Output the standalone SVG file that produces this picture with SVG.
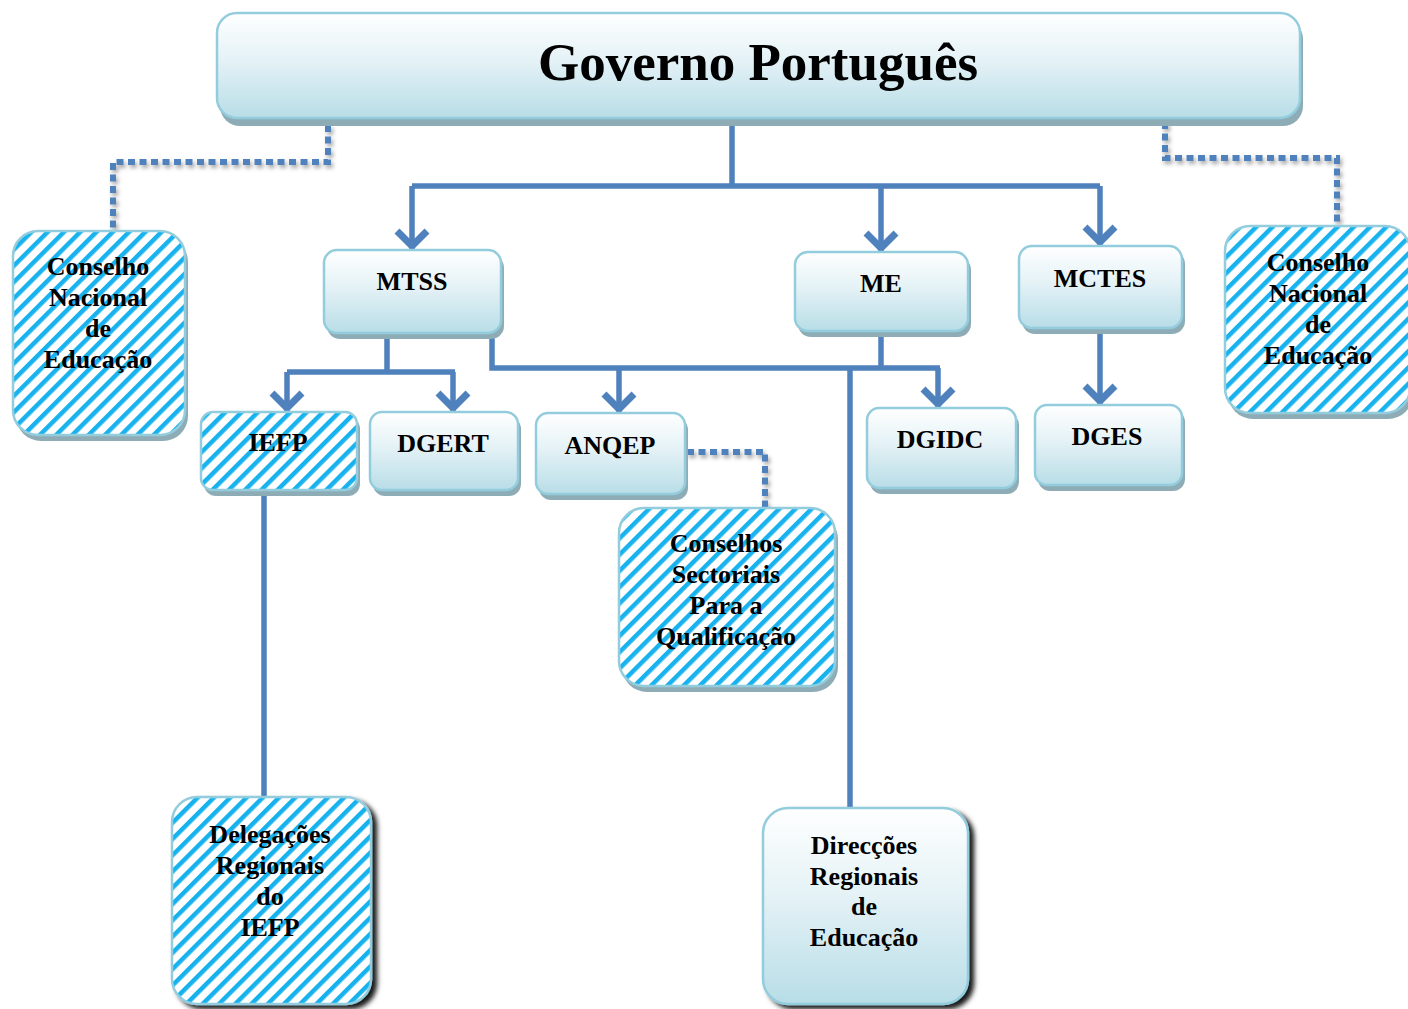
<svg xmlns="http://www.w3.org/2000/svg" width="1408" height="1009" viewBox="0 0 1408 1009">
<style>
.t{font-family:"Liberation Serif","Times New Roman",serif;font-weight:bold;font-size:26px;text-anchor:middle;fill:#000}
.box{fill:url(#grad);stroke:#93CDDD;stroke-width:2.5}
.str{fill:url(#stripes);stroke:#93CDDD;stroke-width:2.5}
.sh{fill:#8EACB6}
.ln{fill:none;stroke:#4F81BD;stroke-width:5.5}
.arr{marker-end:url(#chev)}
.dot{fill:none;stroke:#4F81BD;stroke-width:6;stroke-dasharray:7 4.5;filter:url(#dsh)}
</style>
<defs>
<linearGradient id="grad" x1="0" y1="0" x2="0" y2="1">
<stop offset="0" stop-color="#FFFFFF"/>
<stop offset="0.45" stop-color="#E4F2F6"/>
<stop offset="1" stop-color="#B8DDE7"/>
</linearGradient>
<pattern id="stripes" patternUnits="userSpaceOnUse" width="11.5" height="11.5" patternTransform="rotate(45)">
<rect width="11.5" height="11.5" fill="#FFFFFF"/>
<rect x="0" width="4.5" height="11.5" fill="#18B2EE"/>
</pattern>
<marker id="chev" markerUnits="userSpaceOnUse" viewBox="-22 -22 44 44" markerWidth="44" markerHeight="44" refX="3" refY="0" orient="auto">
<path d="M-15,-15 L0,0 L-15,15" fill="none" stroke="#4F81BD" stroke-width="7"/>
</marker>
<filter id="dsh" x="-20%" y="-20%" width="140%" height="140%">
<feDropShadow dx="2" dy="3" stdDeviation="2" flood-color="#000" flood-opacity="0.35"/>
</filter>
<filter id="dark" x="-10%" y="-10%" width="130%" height="130%">
<feDropShadow dx="5" dy="4" stdDeviation="2.5" flood-color="#000" flood-opacity="0.9"/>
</filter>
</defs>

<g id="connectors">
<path class="ln" d="M732,122 V186"/>
<path class="ln" d="M412,186 H1100"/>
<path class="ln arr" d="M412,186 V249"/>
<path class="ln arr" d="M881,186 V251"/>
<path class="ln arr" d="M1100,186 V245"/>
<path class="ln arr" d="M1100,331 V404"/>
<path class="ln" d="M387,336 V372 M287,372 H455"/>
<path class="ln arr" d="M287,372 V411"/>
<path class="ln arr" d="M453,372 V411"/>
<path class="ln" d="M492,336 V368 H940 M881,334 V368"/>
<path class="ln arr" d="M619,368 V412"/>
<path class="ln arr" d="M938,368 V407"/>
<path class="ln" d="M850,368 V808"/>
<path class="ln" d="M264,493 V797"/>
<path class="dot" d="M328,125 V162 H113 V231"/>
<path class="dot" d="M1165,122 V158 H1337 V226"/>
<path class="dot" d="M687,452 H765 V508"/>
</g>

<g id="governo">
<rect class="sh" x="220" y="19" width="1083" height="107" rx="20"/>
<rect class="box" x="217" y="13" width="1083" height="105" rx="20"/>
<text class="t" x="758" y="80" style="font-size:53px">Governo Português</text>
</g>

<g id="cne-left">
<rect class="sh" x="16" y="237" width="172" height="204" rx="25"/>
<rect class="str" x="13" y="231" width="172" height="204" rx="25"/>
<text class="t" x="98" y="275">Conselho</text>
<text class="t" x="98" y="306">Nacional</text>
<text class="t" x="98" y="337">de</text>
<text class="t" x="98" y="368">Educação</text>
</g>

<g id="mtss">
<rect class="sh" x="327" y="255" width="177" height="84" rx="13"/>
<rect class="box" x="324" y="250" width="177" height="83" rx="13"/>
<text class="t" x="412" y="290">MTSS</text>
</g>

<g id="me">
<rect class="sh" x="798" y="257" width="173" height="80" rx="13"/>
<rect class="box" x="795" y="252" width="173" height="79" rx="13"/>
<text class="t" x="881" y="292">ME</text>
</g>

<g id="mctes">
<rect class="sh" x="1022" y="251" width="163" height="83" rx="13"/>
<rect class="box" x="1019" y="246" width="163" height="82" rx="13"/>
<text class="t" x="1100" y="287">MCTES</text>
</g>

<g id="cne-right">
<rect class="sh" x="1228" y="232" width="185" height="187" rx="25"/>
<rect class="str" x="1225" y="226" width="185" height="187" rx="25"/>
<text class="t" x="1318" y="271">Conselho</text>
<text class="t" x="1318" y="302">Nacional</text>
<text class="t" x="1318" y="333">de</text>
<text class="t" x="1318" y="364">Educação</text>
</g>

<g id="iefp">
<rect class="sh" x="204" y="417" width="156" height="79" rx="12"/>
<rect class="str" x="201" y="412" width="156" height="78" rx="12"/>
<text class="t" x="278" y="451">IEFP</text>
</g>

<g id="dgert">
<rect class="sh" x="373" y="417" width="148" height="79" rx="12"/>
<rect class="box" x="370" y="412" width="148" height="78" rx="12"/>
<text class="t" x="443" y="452">DGERT</text>
</g>

<g id="anqep">
<rect class="sh" x="539" y="418" width="149" height="82" rx="12"/>
<rect class="box" x="536" y="413" width="149" height="81" rx="12"/>
<text class="t" x="610" y="454">ANQEP</text>
</g>

<g id="dgidc">
<rect class="sh" x="870" y="413" width="149" height="81" rx="12"/>
<rect class="box" x="867" y="408" width="149" height="80" rx="12"/>
<text class="t" x="940" y="448">DGIDC</text>
</g>

<g id="dges">
<rect class="sh" x="1038" y="410" width="147" height="81" rx="12"/>
<rect class="box" x="1035" y="405" width="147" height="80" rx="12"/>
<text class="t" x="1107" y="445">DGES</text>
</g>

<g id="conselhos-sectoriais">
<rect class="sh" x="622" y="514" width="216" height="178" rx="25"/>
<rect class="str" x="619" y="508" width="216" height="178" rx="25"/>
<text class="t" x="726" y="552">Conselhos</text>
<text class="t" x="726" y="583">Sectoriais</text>
<text class="t" x="726" y="614">Para a</text>
<text class="t" x="726" y="645">Qualificação</text>
</g>

<g id="delegacoes">
<rect class="str" x="172" y="797" width="199" height="207" rx="25" filter="url(#dark)"/>
<text class="t" x="270" y="843">Delegações</text>
<text class="t" x="270" y="874">Regionais</text>
<text class="t" x="270" y="905">do</text>
<text class="t" x="270" y="936">IEFP</text>
</g>

<g id="direccoes">
<rect class="box" x="763" y="808" width="205" height="196" rx="25" filter="url(#dark)"/>
<text class="t" x="864" y="854">Direcções</text>
<text class="t" x="864" y="885">Regionais</text>
<text class="t" x="864" y="915">de</text>
<text class="t" x="864" y="946">Educação</text>
</g>
</svg>
